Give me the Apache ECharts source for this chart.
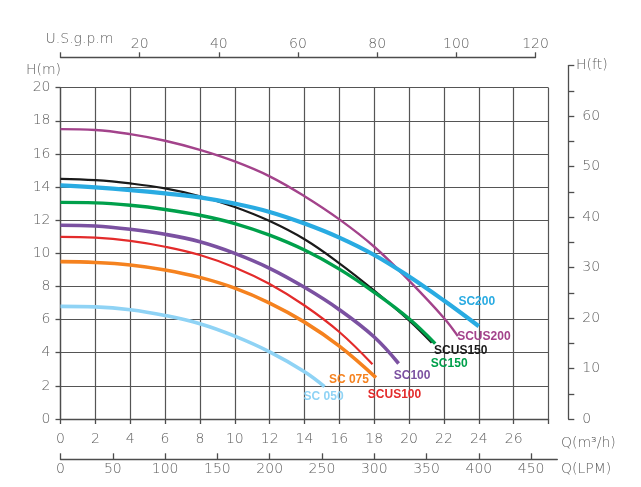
<!DOCTYPE html>
<html><head><meta charset="utf-8">
<script src="https://cdn.jsdelivr.net/npm/echarts@6/dist/echarts.min.js"></script>
<style>html,body{margin:0;padding:0;background:#fff}#c{width:641px;height:487px}</style>
</head><body><div id="c"></div><script>
// ---- data (Q in m3/h, H in m) ----
const seriesNames = ['SC 050','SC 075','SCUS100','SC100','SC150','SCUS150','SC200','SCUS200'];
const qSC050 = [0,2,4,6,8,10,12,14,15.15];
const hSC050 = [6.8,6.77,6.6,6.25,5.75,5.0,4.05,2.85,1.95];
const qSC075 = [0,2,4,6,8,10,12,14,16,18.1];
const hSC075 = [9.5,9.45,9.3,9.0,8.55,7.9,7.0,5.85,4.4,2.5];
const qSCUS100 = [0,2,4,6,8,10,12,14,16,17.9];
const hSCUS100 = [11.0,10.95,10.75,10.4,9.9,9.15,8.15,6.85,5.25,3.3];
const qSC100 = [0,2,4,6,8,10,12,14,16,18,19.4];
const hSC100 = [11.7,11.65,11.45,11.15,10.7,10.0,9.1,7.95,6.6,4.95,3.35];
const qSC150 = [0,2,4,6,8,10,12,14,16,18,20,21.5];
const hSC150 = [13.08,13.05,12.9,12.65,12.3,11.8,11.1,10.2,9.05,7.65,6.05,4.55];
const qSCUS150 = [0,2,4,6,8,10,12,14,16,18,20,21.3];
const hSCUS150 = [14.5,14.42,14.22,13.92,13.45,12.8,11.95,10.85,9.4,7.75,5.95,4.6];
const qSC200 = [0,2,4,6,8,10,12,14,16,18,20,22,24];
const hSC200 = [14.1,13.98,13.82,13.62,13.38,13.0,12.5,11.8,10.95,9.9,8.6,7.15,5.6];
const qSCUS200 = [0,2,4,6,8,10,12,14,16,18,20,22,22.8];
const hSCUS200 = [17.5,17.45,17.2,16.8,16.25,15.55,14.65,13.45,12.05,10.4,8.35,6.1,5.0];
// tick labels
const lpmTicks = [0,50,100,150,200,250,300,350,400,450];
const ftTicks = [0,5,10,15,20,25,30,35,40,45,50,55,60,65,70];

// ---- styling ----
const qs = [qSC050,qSC075,qSCUS100,qSC100,qSC150,qSCUS150,qSC200,qSCUS200];
const hs = [hSC050,hSC075,hSCUS100,hSC100,hSC150,hSCUS150,hSC200,hSCUS200];
const colors = ['#8fd3f5','#f5821f','#e32b2b','#7b51a1','#00a04b','#1a1a1a','#29abe2','#a3438b'];
const widths = [3.6,3.6,2.2,3.6,3.4,2.2,4.2,2.4];
const labelOffsets = [[-1,10],[-27,2.5],[22,30],[13.5,12.5],[14,20.5],[29,8],[-2,-24.5],[26,0.5]];
const zOrder = [2,2,2,2,3,2,4,3];

const AX = '#4d4d4d', TXT = '#606060', FONT = 'DejaVu Sans', FS = 14, FW = 200;
const axisLine = {show:true, onZero:false, lineStyle:{color:AX, width:1.3}};
const lbl = (extra) => Object.assign({color:TXT, fontFamily:FONT, fontSize:FS, fontWeight:FW}, extra);

const chart = echarts.init(document.getElementById('c'), null, {renderer:'canvas', width:641, height:487});

const series = qs.map((q,i)=>({
  type:'line', name:seriesNames[i], xAxisIndex:0, yAxisIndex:0,
  data:q.map((v,j)=>[v,hs[i][j]]), smooth:0.4, symbol:'none', z:zOrder[i],
  lineStyle:{color:colors[i], width:widths[i], cap:'butt'}, silent:true
}));

chart.setOption({
  animation:false,
  grid:[
    {left:60.5, top:87.7, width:488, height:331.3, outerBoundsMode:'none'},
    {left:400, top:65.6, width:168.3, height:353.4, outerBoundsMode:'none'},
    {left:60.5, top:57.3, width:475, height:10, outerBoundsMode:'none'},
    {left:60.5, top:449.3, width:496.8, height:10, outerBoundsMode:'none'}
  ],
  xAxis:[
    {gridIndex:0, type:'value', min:0, max:28, interval:2, axisLine,
     axisTick:{show:true, length:5, lineStyle:{color:AX, width:1.3}},
     axisLabel:lbl({margin:13, formatter:v=> v===28?'':String(v)}),
     splitLine:{show:true, lineStyle:{color:'#555', width:1.2}}},
    {gridIndex:1, type:'value', min:0, max:1, show:false},
    {gridIndex:2, type:'value', position:'top', min:0, max:120, interval:20, axisLine,
     axisTick:{show:true, length:5, lineStyle:{color:AX, width:1.3}},
     axisLabel:lbl({margin:6, formatter:v=> v===0?'':String(v)}),
     splitLine:{show:false}},
    {gridIndex:3, type:'value', position:'bottom', min:0, max:475, interval:50, axisLine,
     axisTick:{show:true, inside:true, length:6, customValues:lpmTicks, lineStyle:{color:AX, width:1.3}},
     axisLabel:lbl({margin:3, customValues:lpmTicks, formatter:v=> (v%50===0)?String(v):''}),
     splitLine:{show:false}}
  ],
  yAxis:[
    {gridIndex:0, type:'value', min:0, max:20, interval:2, axisLine,
     axisTick:{show:true, length:5, lineStyle:{color:AX, width:1.3}},
     axisLabel:lbl({margin:10}),
     splitLine:{show:true, lineStyle:{color:'#555', width:1.2}}},
    {gridIndex:1, type:'value', position:'right', min:0, max:70, interval:5, axisLine,
     axisTick:{show:true, length:6, customValues:ftTicks, lineStyle:{color:AX, width:1.3}},
     axisLabel:lbl({margin:14, formatter:v=> (v%10===0 && v<70)?String(v):''}),
     splitLine:{show:false}},
    {gridIndex:2, type:'value', show:false, min:0, max:1},
    {gridIndex:3, type:'value', show:false, min:0, max:1}
  ],
  series
});

const g = [];
const txt = (text,x,y,align,style) => g.push({type:'text', x, y, silent:true,
  style:Object.assign({text, align, verticalAlign:'middle', fill:TXT, font:`${FW} ${FS}px "${FONT}"`}, style||{})});
txt('U.S.g.p.m', 79.5, 39, 'center');
txt('H(m)', 61, 70, 'right');
txt('H(ft)', 576, 65.6, 'left');
txt('Q(m³/h)', 561, 443, 'left');
txt('Q(LPM)', 561, 469, 'left');
qs.forEach((q,i)=>{
  const n = q.length-1;
  const p = chart.convertToPixel({gridIndex:0}, [q[n], hs[i][n]]);
  txt(seriesNames[i], p[0]+labelOffsets[i][0], p[1]+labelOffsets[i][1], 'center',
      {fill:colors[i], font:'bold 12px "Liberation Sans", Arial, sans-serif'});
});
chart.setOption({graphic:g});
</script></body></html>
